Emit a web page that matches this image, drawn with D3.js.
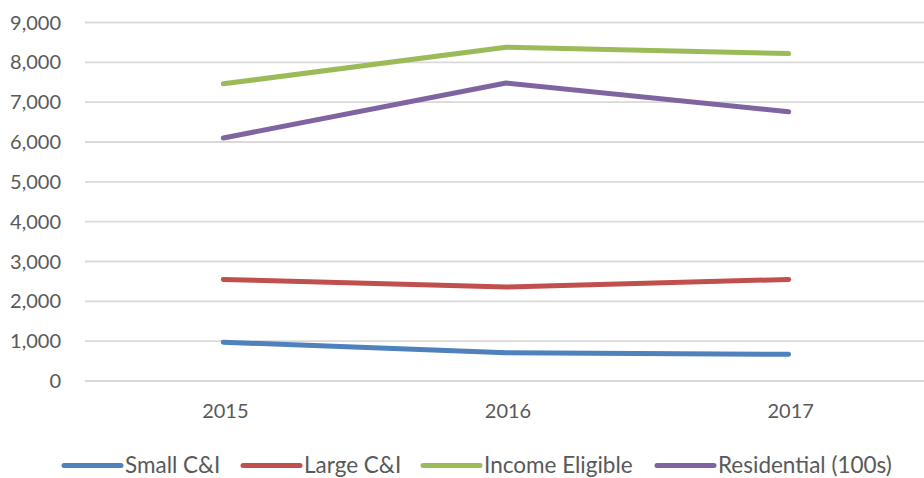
<!DOCTYPE html>
<html><head><meta charset="utf-8">
<script src="https://cdn.jsdelivr.net/npm/d3@7"></script>
<style>
body{margin:0;background:#fff;}
svg text{font-family:Lato, "Open Sans", sans-serif;fill:#595959;}
</style></head>
<body><svg id="c" width="924" height="478"></svg>
<script>
const years = ["2015","2016","2017"];
const seriesNames = ["Small C&I","Large C&I","Income Eligible","Residential (100s)"];
const smallCI = [975, 710, 670];
const largeCI = [2550, 2360, 2550];
const incomeEligible = [7460, 8380, 8220];
const residential = [6100, 7480, 6760];
const yTicks = [0,1000,2000,3000,4000,5000,6000,7000,8000,9000];
const colors = ["#4f81bd","#c0504d","#9bbb59","#8064a2"];
const allSeries = [smallCI, largeCI, incomeEligible, residential];

const svg = d3.select("#c");
const x = d3.scalePoint().domain(years).range([82, 930]).padding(0.5);
const y = d3.scaleLinear().domain([0, 9000]).range([381, 22.5]);

// gridlines
svg.append("g").selectAll("line").data(yTicks).join("line")
  .attr("x1", 85).attr("x2", 924)
  .attr("y1", d => y(d)).attr("y2", d => y(d))
  .attr("stroke", "#d9d9d9").attr("stroke-width", 1.8);

// y axis labels
const fmt = d3.format(",");
svg.append("g").selectAll("text").data(yTicks).join("text")
  .attr("x", 61).attr("y", d => y(d)).attr("dy", "0.35em")
  .attr("text-anchor", "end").attr("font-size", 20)
  .text(d => fmt(d));

// x labels
svg.append("g").selectAll("text").data(years).join("text")
  .attr("x", d => x(d) + 2).attr("y", 418)
  .attr("text-anchor", "middle").attr("font-size", 20)
  .text(d => d);

// lines
const line = d3.line().x((d, i) => x(years[i])).y(d => y(d));
svg.append("g").selectAll("path").data(allSeries).join("path")
  .attr("d", d => line(d))
  .attr("fill", "none")
  .attr("stroke", (d, i) => colors[i])
  .attr("stroke-width", 5)
  .attr("stroke-linecap", "round")
  .attr("stroke-linejoin", "round");

// legend
const legX = [64, 243, 423, 657];
const lg = svg.append("g").selectAll("g").data(seriesNames).join("g")
  .attr("transform", (d, i) => `translate(${legX[i]},465.5)`);
lg.append("line").attr("x1", 0).attr("x2", 57).attr("y1", 0).attr("y2", 0)
  .attr("stroke", (d, i) => colors[i]).attr("stroke-width", 5).attr("stroke-linecap", "round");
lg.append("text").attr("x", 61).attr("y", 0).attr("dy", "0.35em")
  .attr("font-size", 22.5).text(d => d);
</script></body></html>
